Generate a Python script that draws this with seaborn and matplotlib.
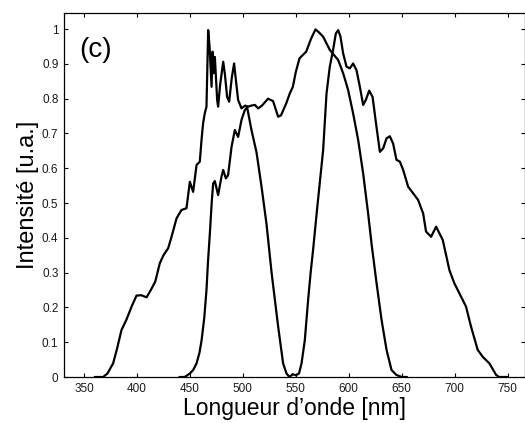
import numpy as np
import pandas as pd
import matplotlib
matplotlib.use("Agg")
import matplotlib.pyplot as plt
import seaborn as sns

# broad spectrum (360 - 655 nm)
wl_1 = [360, 368, 372, 377.4, 381, 385.3, 390, 394.8, 399.5, 404, 409, 413, 417.2,
        421.5, 425, 429.4, 432.6, 437.3, 442, 446.7, 449.9, 453, 456.2, 459.3, 460.9,
        462.4, 464, 465.6, 467.2, 468.5, 470.4, 471.3, 472.5, 473.5, 475.7, 476.6,
        478.5, 481.4, 483, 485.1, 487, 489.5, 491.7, 493.5, 495.5, 498.7, 502, 505,
        508, 511.3, 514.4, 518, 523.8, 528.5, 533.3, 536, 540.9, 544.3, 547.2, 550,
        553.5, 559.8, 564.5, 568.6, 572, 575.8, 582.1, 590, 594.7, 599.4, 604.1,
        608.9, 613.6, 618.3, 621.5, 626.3, 631, 635.7, 640.4, 645, 650, 655]
int_1 = [0, 0, 0.01, 0.039, 0.08, 0.135, 0.165, 0.202, 0.234, 0.235, 0.229, 0.25, 0.274,
         0.327, 0.35, 0.37, 0.403, 0.456, 0.48, 0.485, 0.561, 0.532, 0.609, 0.619, 0.681,
         0.729, 0.758, 0.777, 0.997, 0.95, 0.834, 0.935, 0.873, 0.92, 0.796, 0.777,
         0.84, 0.906, 0.87, 0.805, 0.791, 0.86, 0.901, 0.85, 0.796, 0.772, 0.78, 0.777,
         0.78, 0.782, 0.772, 0.78, 0.80, 0.793, 0.748, 0.752, 0.786, 0.815, 0.834, 0.877,
         0.916, 0.935, 0.973, 0.999, 0.99, 0.978, 0.94, 0.911, 0.873, 0.825, 0.758,
         0.681, 0.585, 0.47, 0.384, 0.269, 0.164, 0.078, 0.02, 0.006, 0, 0]

# filtered spectrum, two lobes (440 - 750 nm)
wl_2 = [440, 445, 449.9, 453, 456.2, 459, 461, 463.5, 465.6, 467, 468.8, 470.5, 471.9,
        473.5, 476.6, 479.8, 481.4, 483.9, 486, 489.3, 492.4, 495.5, 498.7, 501.8, 504,
        508.1, 512.9, 517.6, 522.3, 527.1, 533.3, 538, 541.2, 544, 547, 550, 553,
        555.4, 558.5, 561.6, 564, 566.3, 570, 575.8, 579, 582.1, 585.2, 587.8, 590,
        592.2, 594.7, 597.9, 601, 604.1, 607.3, 610.5, 613.6, 616.1, 619.3, 622.5,
        626.2, 629.4, 632.5, 635.7, 638.8, 641.9, 645.1, 648.3, 651.4, 656.1, 660.8,
        665.5, 670.3, 673, 677.8, 682.5, 688.8, 695.1, 699.8, 706.1, 710.8, 715.5,
        721.8, 726.6, 732.9, 739.2, 742, 750]
int_2 = [0, 0, 0.01, 0.02, 0.039, 0.07, 0.106, 0.17, 0.25, 0.33, 0.413, 0.5, 0.556,
         0.563, 0.523, 0.576, 0.595, 0.571, 0.58, 0.662, 0.71, 0.69, 0.739, 0.767, 0.775,
         0.71, 0.645, 0.547, 0.44, 0.30, 0.145, 0.039, 0.01, 0, 0.008, 0.005, 0.01,
         0.039, 0.106, 0.221, 0.3, 0.365, 0.48, 0.652, 0.815, 0.892, 0.94, 0.987, 0.997,
         0.978, 0.93, 0.892, 0.887, 0.901, 0.882, 0.834, 0.782, 0.796, 0.823, 0.805,
         0.719, 0.647, 0.657, 0.686, 0.692, 0.671, 0.624, 0.619, 0.595, 0.547, 0.528,
         0.509, 0.47, 0.418, 0.403, 0.432, 0.394, 0.307, 0.269, 0.231, 0.202, 0.145,
         0.078, 0.058, 0.039, 0.006, 0, 0]

x_ticks = [350, 400, 450, 500, 550, 600, 650, 700, 750]
y_ticks = [0, 0.1, 0.2, 0.3, 0.4, 0.5, 0.6, 0.7, 0.8, 0.9, 1]
y_tick_labels = ["0", "0.1", "0.2", "0.3", "0.4", "0.5", "0.6", "0.7", "0.8", "0.9", "1"]

sns.set_style("ticks")
plt.rcParams["font.family"] = ["Liberation Sans", "DejaVu Sans"]

fig = plt.figure(figsize=(5.25, 4.23), dpi=100)
ax = fig.add_axes([64 / 525, 46 / 423, 461 / 525, 364.3 / 423])

df1 = pd.DataFrame({"wl": wl_1, "I": int_1})
df2 = pd.DataFrame({"wl": wl_2, "I": int_2})
sns.lineplot(data=df1, x="wl", y="I", ax=ax, color="black", lw=1.6, sort=False)
sns.lineplot(data=df2, x="wl", y="I", ax=ax, color="black", lw=1.6, sort=False)

ax.set_xlim(331, 766.5)
ax.set_ylim(0, 1.047)
ax.set_xticks(x_ticks)
ax.set_yticks(y_ticks)
ax.set_yticklabels(y_tick_labels)
ax.tick_params(direction="in", length=3, width=0.8, top=True, right=True,
               labelsize=8.5, labelcolor="#1a1a1a", color="black", pad=4)
for s in ax.spines.values():
    s.set_linewidth(0.9)
    s.set_color("black")

ax.set_xlabel("Longueur d\u2019onde [nm]", fontsize=16.5, labelpad=2, color="black")
ax.set_ylabel("Intensit\u00e9 [u.a.]", fontsize=17, labelpad=2, color="black")
ax.text(0.033, 0.898, "(c)", transform=ax.transAxes, fontsize=20, va="center",
        ha="left", color="black")

fig.savefig("out.png", dpi=100)
